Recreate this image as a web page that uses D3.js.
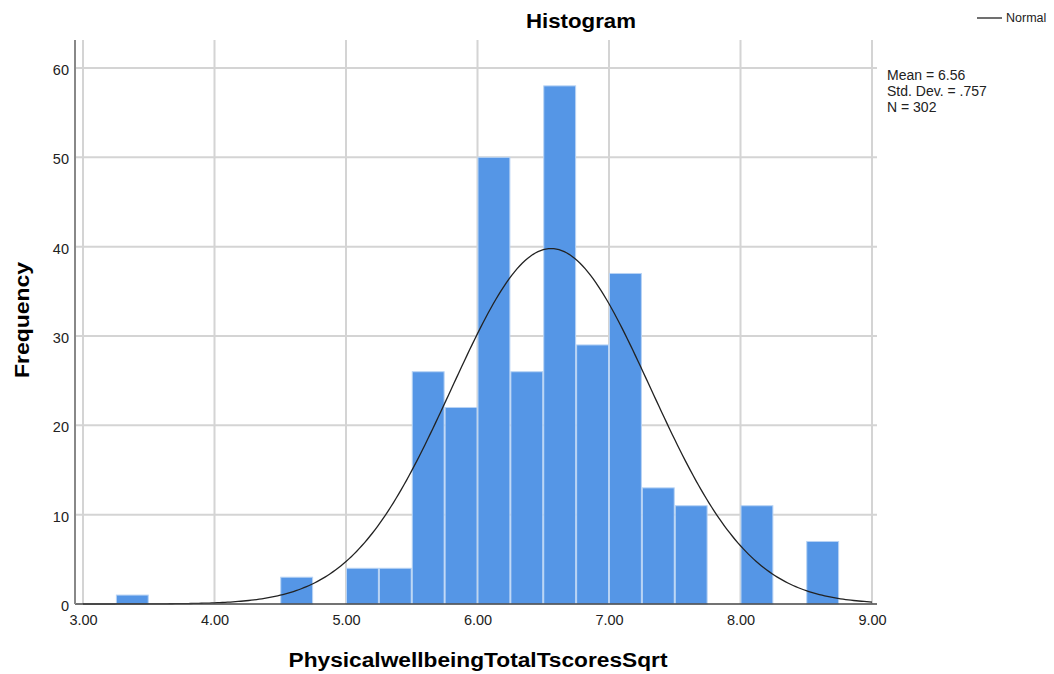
<!DOCTYPE html>
<html>
<head>
<meta charset="utf-8">
<script src="https://cdn.jsdelivr.net/npm/d3@7"></script>
<style>
  body { margin: 0; background: #fff; font-family: "Liberation Sans", Arial, sans-serif; }
  .grid line { stroke: #d4d4d4; stroke-width: 2; }
  .tick text { font-size: 14.5px; fill: #222; font-family: "Liberation Sans", Arial, sans-serif; }
</style>
</head>
<body>
<svg id="chart" width="1054" height="674"></svg>
<script>
// bin lower edges (width .25) and counts
var binStarts = [3.25, 4.5, 5.0, 5.25, 5.5, 5.75, 6.0, 6.25, 6.5, 6.75, 7.0, 7.25, 7.5, 8.0, 8.5];
var counts    = [1,    3,   4,   4,    26,  22,   50,  26,   58,  29,   37,  13,   11,  11,  7];
var binWidth = 0.25;
var xTicks = [3, 4, 5, 6, 7, 8, 9];
var yTicks = [0, 10, 20, 30, 40, 50, 60];
var stats = ["Mean = 6.56", "Std. Dev. = .757", "N = 302"];
var mean = 6.56, sd = 0.757, n = 302;

var svg = d3.select("#chart");

var x = d3.scaleLinear().domain([3, 9]).range([83, 872]);
var y = d3.scaleLinear().domain([0, 60]).range([604, 68]);

var plotL = 75, plotR = 877, plotT = 40, plotB = 604;

// grid
var grid = svg.append("g").attr("class", "grid");
grid.selectAll(".vg").data(xTicks).enter().append("line")
  .attr("x1", function(d){ return x(d); }).attr("x2", function(d){ return x(d); })
  .attr("y1", plotT).attr("y2", plotB);
grid.selectAll(".hg").data(yTicks.slice(1)).enter().append("line")
  .attr("x1", plotL).attr("x2", plotR)
  .attr("y1", function(d){ return y(d); }).attr("y2", function(d){ return y(d); });

// bars
svg.append("g").selectAll("rect")
  .data(binStarts.map(function(s, i){ return {s: s, c: counts[i]}; }))
  .enter().append("rect")
    .attr("x", function(d){ return x(d.s) + 0.5; })
    .attr("width", function(d){ return x(d.s + binWidth) - x(d.s) - 1; })
    .attr("y", function(d){ return y(d.c); })
    .attr("height", function(d){ return y(0) - y(d.c); })
    .attr("fill", "#5596e6")
    .attr("stroke", "#b8d3f4")
    .attr("stroke-width", 1);

// normal curve from mean / sd / N
var curvePts = d3.range(3, 9.001, 0.02).map(function(v){
  var z = (v - mean) / sd;
  return [v, n * binWidth * Math.exp(-0.5 * z * z) / (sd * Math.sqrt(2 * Math.PI))];
});
svg.append("path")
  .datum(curvePts)
  .attr("fill", "none").attr("stroke", "#222").attr("stroke-width", 1.3)
  .attr("d", d3.line().x(function(d){ return x(d[0]); }).y(function(d){ return y(d[1]); }));

// axes
var xAxis = svg.append("g").attr("transform", "translate(0," + plotB + ")")
  .call(d3.axisBottom(x).tickValues(xTicks).tickSize(0).tickPadding(11).tickFormat(d3.format(".2f")));
xAxis.select(".domain").remove();
svg.append("line").attr("x1", plotL).attr("x2", plotR).attr("y1", plotB).attr("y2", plotB)
  .attr("stroke", "#444").attr("stroke-width", 1.5);

var yAxis = svg.append("g").attr("transform", "translate(" + (plotL - 6) + ",0)")
  .call(d3.axisLeft(y).tickValues(yTicks).tickSize(0).tickPadding(0));
yAxis.select(".domain").remove();
yAxis.selectAll("text").attr("dy", "0.45em");
svg.append("line").attr("x1", plotL).attr("x2", plotL).attr("y1", plotT).attr("y2", plotB)
  .attr("stroke", "#888").attr("stroke-width", 2);

// titles
svg.append("text").attr("x", 581).attr("y", 28).attr("text-anchor", "middle")
  .attr("font-size", 20.5).attr("font-weight", "bold")
  .attr("textLength", 110).attr("lengthAdjust", "spacingAndGlyphs").text("Histogram");
svg.append("text").attr("x", 478).attr("y", 667).attr("text-anchor", "middle")
  .attr("font-size", 20).attr("font-weight", "bold")
  .attr("textLength", 379).attr("lengthAdjust", "spacingAndGlyphs").text("PhysicalwellbeingTotalTscoresSqrt");
svg.append("text").attr("transform", "translate(29,320) rotate(-90)").attr("text-anchor", "middle")
  .attr("font-size", 20.5).attr("font-weight", "bold")
  .attr("textLength", 116).attr("lengthAdjust", "spacingAndGlyphs").text("Frequency");

// legend
svg.append("line").attr("x1", 977).attr("x2", 1002).attr("y1", 18).attr("y2", 18)
  .attr("stroke", "#222").attr("stroke-width", 1.3);
svg.append("text").attr("x", 1006).attr("y", 22).attr("font-size", 12.5).attr("fill", "#222").text("Normal");

svg.append("g").selectAll("text").data(stats).enter().append("text")
  .attr("x", 887).attr("y", function(d, i){ return 80 + i * 16; })
  .attr("font-size", 14).attr("fill", "#222").text(function(d){ return d; });
</script>
</body>
</html>
